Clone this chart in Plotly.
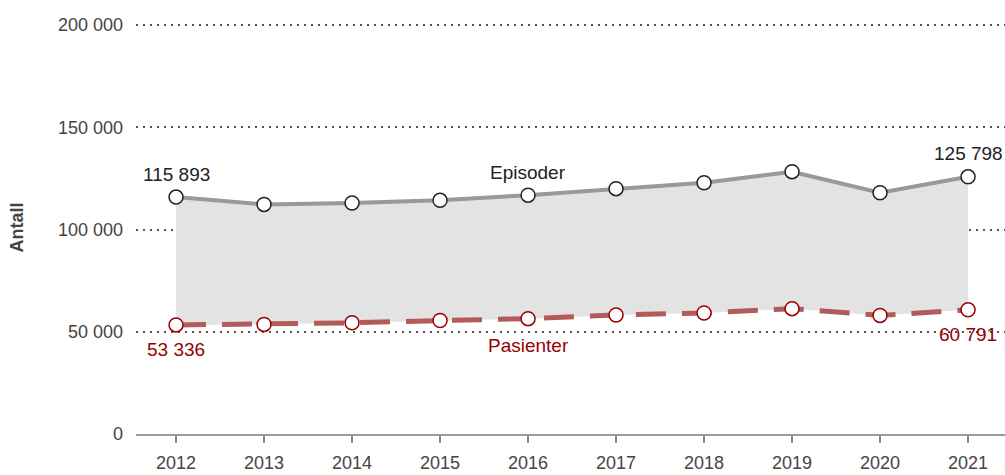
import plotly.graph_objects as go

years = [2012, 2013, 2014, 2015, 2016, 2017, 2018, 2019, 2020, 2021]
episoder = [115893, 112300, 113000, 114300, 116800, 120000, 122900, 128300, 118000, 125798]
pasienter = [53336, 53600, 54400, 55500, 56400, 58200, 59200, 61300, 58000, 60791]

y_ticks = [0, 50000, 100000, 150000, 200000]

FONT = 'Liberation Sans, Arial, sans-serif'
DARK_RED = '#990000'


def fmt(v):
    return f'{v:,}'.replace(',', ' ')


fig = go.Figure()

# band between the two series
fig.add_trace(go.Scatter(x=years, y=pasienter, mode='lines',
                         line=dict(width=0), hoverinfo='skip'))
fig.add_trace(go.Scatter(x=years, y=episoder, mode='lines',
                         line=dict(width=0), fill='tonexty',
                         fillcolor='#e3e3e3', hoverinfo='skip'))

fig.add_trace(go.Scatter(
    x=years, y=episoder, mode='lines+markers', name='Episoder',
    line=dict(color='#999999', width=4),
    marker=dict(size=14, color='white', line=dict(color='#222222', width=1.5))
))
fig.add_trace(go.Scatter(
    x=years, y=pasienter, mode='lines+markers', name='Pasienter',
    line=dict(color='#b35b5b', width=5, dash='30px,16px'),
    marker=dict(size=14, color='white', line=dict(color=DARK_RED, width=1.5))
))

# value labels on first and last points
for i in (0, -1):
    fig.add_annotation(x=years[i], y=episoder[i], text=fmt(episoder[i]),
                       showarrow=False, yshift=23,
                       font=dict(size=19, color='#222222'))
    fig.add_annotation(x=years[i], y=pasienter[i], text=fmt(pasienter[i]),
                       showarrow=False, yshift=-25,
                       font=dict(size=19, color=DARK_RED))

# series names
fig.add_annotation(x=years[4], y=episoder[4], text='Episoder', showarrow=False,
                   yshift=23, font=dict(size=19, color='#222222'))
fig.add_annotation(x=years[4], y=pasienter[4], text='Pasienter', showarrow=False,
                   yshift=-27, font=dict(size=19, color=DARK_RED))

fig.update_layout(
    width=1005, height=475,
    margin=dict(l=136, r=0, t=21, b=41),
    plot_bgcolor='white', paper_bgcolor='white',
    font=dict(family=FONT, size=18, color='#444444'),
    separators=', ',
    showlegend=False,
    xaxis=dict(
        range=[2011.545, 2021.42],
        tickvals=years, ticks='outside', ticklen=7, tickwidth=2,
        tickcolor='#888888', showline=True, linecolor='#999999', linewidth=2,
        showgrid=False, zeroline=False, ticklabelstandoff=4,
    ),
    yaxis=dict(
        range=[0, 202000], tickvals=y_ticks, tickformat=',d',
        showgrid=True, gridcolor='#555555', gridwidth=1.5, griddash='2px,5px',
        zeroline=False, showline=False, ticks='', ticklabelstandoff=12,
        title=dict(text='<b>Antall</b>', standoff=29,
                   font=dict(size=18, color='#444444')),
    ),
)

fig.write_html('out.html', config={'displayModeBar': False},
               post_script="document.body.style.margin='0';")
